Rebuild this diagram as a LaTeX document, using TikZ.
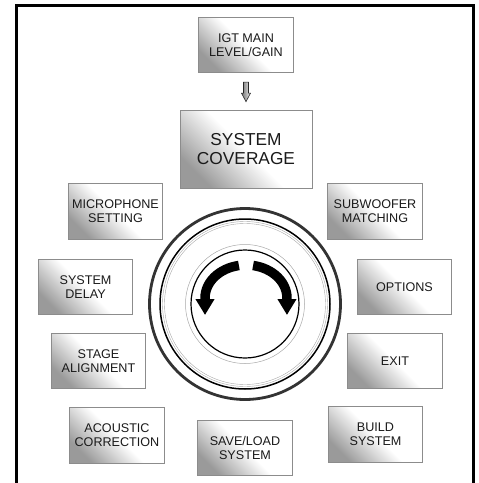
\documentclass[tikz,border=0pt]{standalone}
\usepackage{fontspec}
\setmainfont{Liberation Sans}
\usepackage{xcolor}
\usepackage{tikz}
\usetikzlibrary{arrows.meta}
\definecolor{boxline}{HTML}{8C8C8C}
\definecolor{boxshade}{HTML}{9A9A9A}
\definecolor{knobring}{HTML}{333333}
\definecolor{thinring}{HTML}{A8A8A8}
\definecolor{labeltext}{HTML}{1A1A1A}

\begin{document}
\begin{tikzpicture}[x=1pt, y=-1pt, line join=miter,
  menubox/.style={draw=boxline, line width=0.8pt, top color=white, bottom color=boxshade, middle color=white, shading angle=-45,
    minimum width=94.5pt, minimum height=55.5pt, inner sep=0pt, align=center, text=labeltext, font=\fontsize{12.6}{14.2}\selectfont},
  bigbox/.style={menubox, minimum width=132pt, minimum height=78pt, font=\fontsize{17.3}{18.8}\selectfont}]
\useasboundingbox (0,0) rectangle (479,483);
\draw[line width=3pt, black] (16,483) -- (16,5) -- (473,5) -- (473,483);
\node[menubox] (igt) at (246,45) {IGT MAIN\\LEVEL/GAIN};
\node[bigbox] (cov) at (246,149) {SYSTEM\\COVERAGE};
\node[menubox] (mic) at (115.5,211.5) {MICROPHONE\\SETTING};
\node[menubox] (sub) at (375,211.5) {SUBWOOFER\\MATCHING};
\node[menubox] (dly) at (85.5,287) {SYSTEM\\DELAY};
\node[menubox] (opt) at (404.5,287) {OPTIONS};
\node[menubox] (stg) at (98.5,361) {STAGE\\ALIGNMENT};
\node[menubox] (exit) at (395,361) {EXIT};
\node[menubox] (acc) at (117,435.5) {ACOUSTIC\\CORRECTION};
\node[menubox] (save) at (245,448) {SAVE/LOAD\\SYSTEM};
\node[menubox] (build) at (375.5,434.5) {BUILD\\SYSTEM};
\draw[draw=gray!30!black, line width=0.6pt, left color=gray!90!black, right color=gray!15] (igt.south) ++(-2.5,9) -- ++(5,0) -- ++(0,11) -- ++(2,0) -- ++(-4.5,8.5) -- ++(-4.5,-8.5) -- ++(2,0) -- cycle;
\coordinate (knob) at (245,304);
\draw[line width=2.8pt, knobring] (knob) circle[radius=95.5];
\draw[line width=1.5pt, black] (knob) circle[radius=85];
\draw[line width=0.4pt, thinring] (knob) circle[radius=82.5];
\draw[line width=0.4pt, thinring] (knob) circle[radius=80.5];
\draw[line width=0.5pt, thinring] (knob) circle[radius=59.5];
\draw[line width=1.2pt, black] (knob) circle[radius=54];
\draw[line width=9.5pt, black, -{Triangle[width=18pt, length=16pt]}] (238.9,265.5) arc[start angle=-100, end angle=-180, x radius=41, y radius=33] -- ++(0,17);
\draw[line width=9.5pt, black, -{Triangle[width=18pt, length=16pt]}] (253.1,265.5) arc[start angle=-80, end angle=0, x radius=41, y radius=33] -- ++(0,17);
\end{tikzpicture}
\end{document}
